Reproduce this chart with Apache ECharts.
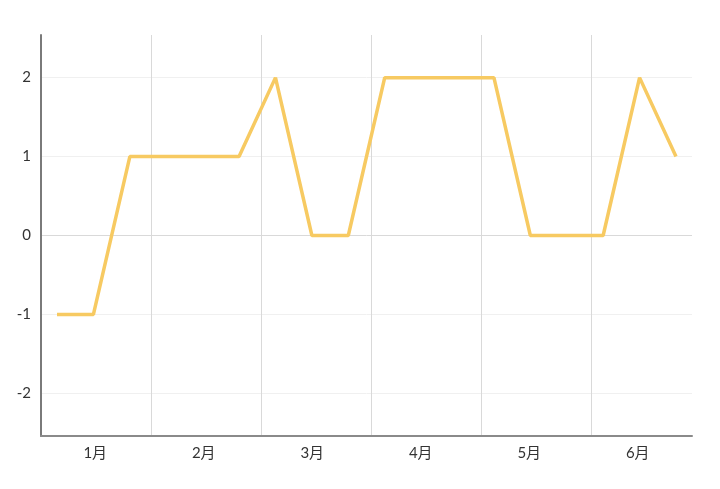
<!DOCTYPE html>
<html>
<head>
<meta charset="utf-8">
<script src="https://cdn.jsdelivr.net/npm/echarts@6/dist/echarts.min.js"></script>
<style>
  html, body { margin: 0; padding: 0; background: #fff; }
  #main { width: 720px; height: 489px; }
</style>
</head>
<body>
<div id="main"></div>
<script>
// month categories on the visible axis
var months = ['1月', '2月', '3月', '4月', '5月', '6月'];
// 18 points, 3 per month
var pointIndex = [0, 1, 2, 3, 4, 5, 6, 7, 8, 9, 10, 11, 12, 13, 14, 15, 16, 17];
var values = [-1, -1, 1, 1, 1, 1, 2, 0, 0, 2, 2, 2, 2, 0, 0, 0, 2, 1];
var yTicks = [-2, -1, 0, 1, 2];

var chartDom = document.getElementById('main');
var myChart = echarts.init(chartDom);
var option;

var fontFamily = 'Lato, "Noto Sans CJK SC", sans-serif';

var lineData = pointIndex.map(function (x, i) { return [x, values[i]]; });

option = {
  animation: false,
  grid: { left: 41, right: 28, top: 35, bottom: 53 },
  xAxis: [
    {
      // labels + bottom axis line
      type: 'category',
      data: months,
      boundaryGap: true,
      axisTick: { show: false },
      axisLine: { onZero: false, lineStyle: { color: '#8a8a8a', width: 2 } },
      axisLabel: { color: '#333', fontSize: 15, margin: 10, fontFamily: fontFamily },
      splitLine: { show: false }
    },
    {
      // vertical month separators
      type: 'value',
      min: 0,
      max: 5.92,
      interval: 1,
      axisLine: { show: false, onZero: false },
      axisTick: { show: false },
      axisLabel: { show: false },
      splitLine: {
        show: true,
        showMinLine: false,
        showMaxLine: false,
        lineStyle: { color: '#d9d9d9', width: 1 }
      }
    },
    {
      // axis for the line points
      type: 'value',
      min: -0.44,
      max: 17.44,
      show: false,
      axisLine: { onZero: false },
      splitLine: { show: false }
    }
  ],
  yAxis: {
    type: 'value',
    min: -2.54,
    max: 2.54,
    axisLine: { show: true, onZero: false, lineStyle: { color: '#7a7a7a', width: 2 } },
    axisTick: { show: false, customValues: yTicks },
    axisLabel: { color: '#333', fontSize: 15, margin: 10, fontFamily: fontFamily, customValues: yTicks },
    splitLine: {
      show: true,
      lineStyle: { color: ['#f0f0f0', '#f0f0f0', '#d9d9d9', '#f0f0f0', '#f0f0f0'], width: 1 }
    }
  },
  series: [
    {
      type: 'line',
      xAxisIndex: 2,
      data: lineData,
      symbol: 'none',
      lineStyle: { color: '#f7ca62', width: 3.5 },
      itemStyle: { color: '#f7ca62' }
    }
  ]
};

option && myChart.setOption(option);
</script>
</body>
</html>
